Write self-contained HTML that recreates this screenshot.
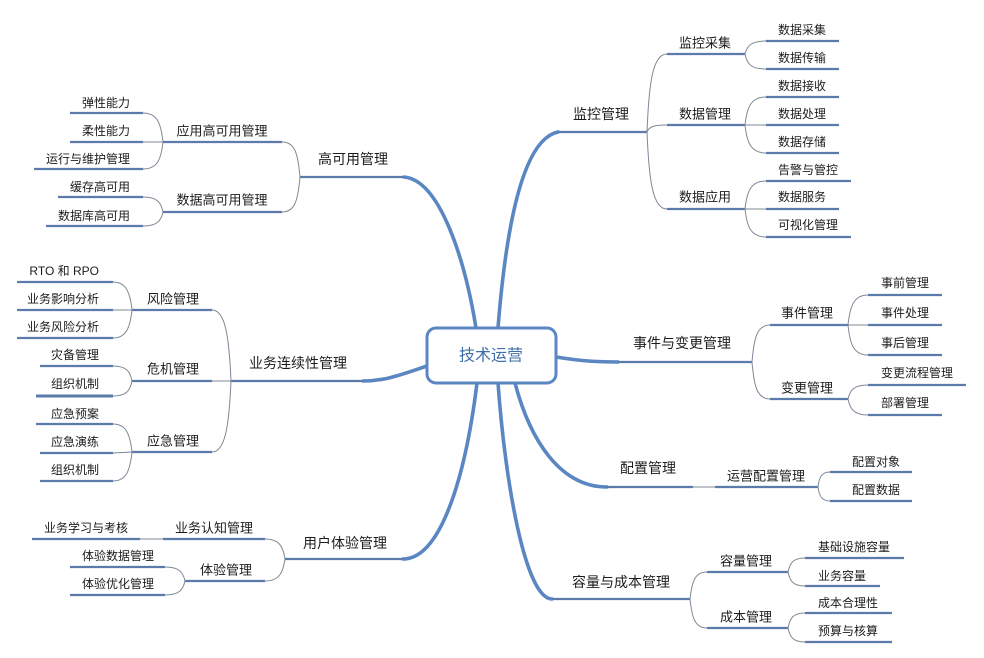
<!DOCTYPE html>
<html><head><meta charset="utf-8">
<style>
html,body{margin:0;padding:0;background:#fff;}
svg{display:block;}
text{font-family:"Liberation Sans","Noto Sans CJK SC",sans-serif;fill:#1c1c1c;dominant-baseline:central;}
.m{font-size:14px;text-anchor:middle;}
.s{font-size:13px;text-anchor:middle;}
.le{font-size:12px;text-anchor:end;}
.ls{font-size:12px;text-anchor:start;}
.u{stroke:#5b7bab;stroke-width:2.2;fill:none;}
.b{stroke:#7f8896;stroke-width:1;fill:none;}
.mc{stroke:#5a86c2;stroke-width:3.6;fill:none;stroke-linecap:round;}
</style></head>
<body>
<svg width="984" height="658" viewBox="0 0 984 658" xmlns="http://www.w3.org/2000/svg">
<!-- main curves -->
<path class="mc" d="M404,177 C440,180 465,260 476,328"/>
<path class="mc" d="M498,328 C505,240 520,140 558,132"/>
<path class="mc" d="M427,366 C400,375 385,381 363,381"/>
<path class="mc" d="M556,357 C575,360 590,362 618,362"/>
<path class="mc" d="M515,383 C530,440 560,487 607,487"/>
<path class="mc" d="M498,383 C505,480 525,599 552,599"/>
<path class="mc" d="M477,383 C465,480 440,559 403,559"/>

<!-- central box -->
<rect x="427" y="328" width="129" height="55" rx="9" ry="9" fill="#fff" stroke="#5a86c2" stroke-width="3"/>
<text x="491" y="356" style="font-size:16px;text-anchor:middle;fill:#3f6fa8;">技术运营</text>

<!-- main underlines -->
<line class="u" x1="300" y1="177" x2="404" y2="177"/>
<line class="u" x1="558" y1="132" x2="647" y2="132"/>
<line class="u" x1="231" y1="381" x2="363" y2="381"/>
<line class="u" x1="618" y1="362" x2="752" y2="362"/>
<line class="u" x1="605" y1="487" x2="693" y2="487"/>
<line class="u" x1="552" y1="599" x2="690" y2="599"/>
<line class="u" x1="285" y1="559" x2="403" y2="559"/>

<text class="m" x="353" y="159">高可用管理</text>
<text class="m" x="601" y="114">监控管理</text>
<text class="m" x="298" y="363">业务连续性管理</text>
<text class="m" x="682" y="343">事件与变更管理</text>
<text class="m" x="648" y="468">配置管理</text>
<text class="m" x="621" y="582">容量与成本管理</text>
<text class="m" x="345" y="543">用户体验管理</text>

<!-- level 2 underlines -->
<line class="u" x1="163" y1="142" x2="282" y2="142"/>
<line class="u" x1="163" y1="212" x2="282" y2="212"/>
<line class="u" x1="132" y1="310" x2="212" y2="310"/>
<line class="u" x1="132" y1="381" x2="212" y2="381"/>
<line class="u" x1="132" y1="452" x2="212" y2="452"/>
<line class="u" x1="163" y1="539" x2="265" y2="539"/>
<line class="u" x1="185" y1="581" x2="265" y2="581"/>
<line class="u" x1="667" y1="54" x2="745" y2="54"/>
<line class="u" x1="667" y1="125" x2="745" y2="125"/>
<line class="u" x1="667" y1="209" x2="745" y2="209"/>
<line class="u" x1="770" y1="325" x2="848" y2="325"/>
<line class="u" x1="770" y1="399" x2="848" y2="399"/>
<line class="u" x1="715" y1="487" x2="818" y2="487"/>
<line class="u" x1="707" y1="572" x2="788" y2="572"/>
<line class="u" x1="707" y1="628" x2="788" y2="628"/>

<text class="s" x="222" y="131">应用高可用管理</text>
<text class="s" x="222" y="200">数据高可用管理</text>
<text class="s" x="173" y="299">风险管理</text>
<text class="s" x="173" y="369">危机管理</text>
<text class="s" x="173" y="441">应急管理</text>
<text class="s" x="214" y="528">业务认知管理</text>
<text class="s" x="226" y="570">体验管理</text>
<text class="s" x="705" y="43">监控采集</text>
<text class="s" x="705" y="114">数据管理</text>
<text class="s" x="705" y="197">数据应用</text>
<text class="s" x="807" y="313">事件管理</text>
<text class="s" x="807" y="388">变更管理</text>
<text class="s" x="766" y="476">运营配置管理</text>
<text class="s" x="746" y="561">容量管理</text>
<text class="s" x="746" y="617">成本管理</text>

<!-- leaf underlines -->
<line class="u" x1="70" y1="113" x2="143" y2="113"/>
<line class="u" x1="70" y1="142" x2="143" y2="142"/>
<line class="u" x1="34" y1="169" x2="143" y2="169"/>
<line class="u" x1="58" y1="197" x2="143" y2="197"/>
<line class="u" x1="46" y1="226" x2="143" y2="226"/>
<line class="u" x1="17" y1="282" x2="113" y2="282"/>
<line class="u" x1="17" y1="310" x2="113" y2="310"/>
<line class="u" x1="17" y1="338" x2="113" y2="338"/>
<line class="u" x1="40" y1="366" x2="113" y2="366"/>
<line class="u" x1="36" y1="396" x2="113" y2="396" style="stroke-width:3"/>
<line class="u" x1="36" y1="424" x2="113" y2="424"/>
<line class="u" x1="40" y1="453" x2="113" y2="453"/>
<line class="u" x1="40" y1="481" x2="113" y2="481"/>
<line class="u" x1="32" y1="539" x2="140" y2="539"/>
<line class="u" x1="70" y1="567" x2="165" y2="567"/>
<line class="u" x1="70" y1="595" x2="165" y2="595"/>

<line class="u" x1="766" y1="41" x2="839" y2="41"/>
<line class="u" x1="766" y1="69" x2="839" y2="69"/>
<line class="u" x1="766" y1="97" x2="839" y2="97"/>
<line class="u" x1="766" y1="125" x2="839" y2="125"/>
<line class="u" x1="766" y1="153" x2="839" y2="153"/>
<line class="u" x1="766" y1="181" x2="851" y2="181"/>
<line class="u" x1="766" y1="209" x2="839" y2="209"/>
<line class="u" x1="766" y1="237" x2="851" y2="237"/>
<line class="u" x1="868" y1="295" x2="942" y2="295"/>
<line class="u" x1="868" y1="325" x2="942" y2="325"/>
<line class="u" x1="868" y1="355" x2="942" y2="355"/>
<line class="u" x1="868" y1="385" x2="966" y2="385"/>
<line class="u" x1="868" y1="415" x2="942" y2="415"/>
<line class="u" x1="830" y1="472" x2="912" y2="472"/>
<line class="u" x1="830" y1="501" x2="912" y2="501"/>
<line class="u" x1="805" y1="558" x2="904" y2="558"/>
<line class="u" x1="805" y1="586" x2="880" y2="586"/>
<line class="u" x1="805" y1="613" x2="892" y2="613"/>
<line class="u" x1="805" y1="642" x2="892" y2="642"/>

<text class="le" x="130" y="103">弹性能力</text>
<text class="le" x="130" y="131">柔性能力</text>
<text class="le" x="130" y="159">运行与维护管理</text>
<text class="le" x="130" y="187">缓存高可用</text>
<text class="le" x="130" y="216">数据库高可用</text>
<text class="le" x="99" y="271">RTO 和 RPO</text>
<text class="le" x="99" y="299">业务影响分析</text>
<text class="le" x="99" y="327">业务风险分析</text>
<text class="le" x="99" y="355">灾备管理</text>
<text class="le" x="99" y="384">组织机制</text>
<text class="le" x="99" y="414">应急预案</text>
<text class="le" x="99" y="442">应急演练</text>
<text class="le" x="99" y="470">组织机制</text>
<text class="le" x="128" y="528">业务学习与考核</text>
<text class="le" x="154" y="556">体验数据管理</text>
<text class="le" x="154" y="584">体验优化管理</text>

<text class="ls" x="778" y="30">数据采集</text>
<text class="ls" x="778" y="58">数据传输</text>
<text class="ls" x="778" y="86">数据接收</text>
<text class="ls" x="778" y="114">数据处理</text>
<text class="ls" x="778" y="142">数据存储</text>
<text class="ls" x="778" y="170">告警与管控</text>
<text class="ls" x="778" y="197">数据服务</text>
<text class="ls" x="778" y="225">可视化管理</text>
<text class="ls" x="881" y="283">事前管理</text>
<text class="ls" x="881" y="313">事件处理</text>
<text class="ls" x="881" y="343">事后管理</text>
<text class="ls" x="881" y="373">变更流程管理</text>
<text class="ls" x="881" y="403">部署管理</text>
<text class="ls" x="852" y="462">配置对象</text>
<text class="ls" x="852" y="490">配置数据</text>
<text class="ls" x="818" y="547">基础设施容量</text>
<text class="ls" x="818" y="576">业务容量</text>
<text class="ls" x="818" y="603">成本合理性</text>
<text class="ls" x="818" y="631">预算与核算</text>

<!-- brackets -->
<path class="b" d="M300,177 C298,154 295,142 282,142"/>
<path class="b" d="M300,177 C298,200 295,212 282,212"/>
<path class="b" d="M163,142 C161,123 157,113 143,113"/>
<path class="b" d="M163,142 L143,142"/>
<path class="b" d="M163,142 C161,160 157,169 143,169"/>
<path class="b" d="M163,212 C161,202 157,197 143,197"/>
<path class="b" d="M163,212 C161,221 157,226 143,226"/>
<path class="b" d="M231,381 C229,335 225,310 212,310"/>
<path class="b" d="M231,381 L212,381"/>
<path class="b" d="M231,381 C229,427 225,452 212,452"/>
<path class="b" d="M132,310 C130,292 126,282 113,282"/>
<path class="b" d="M132,310 L113,310"/>
<path class="b" d="M132,310 C130,328 126,338 113,338"/>
<path class="b" d="M132,381 C130,371 126,366 113,366"/>
<path class="b" d="M132,381 C130,391 126,396 113,396"/>
<path class="b" d="M132,452 C130,434 126,424 113,424"/>
<path class="b" d="M132,452 L113,453"/>
<path class="b" d="M132,452 C130,471 126,481 113,481"/>
<path class="b" d="M285,559 C283,546 279,539 265,539"/>
<path class="b" d="M285,559 C283,573 279,581 265,581"/>
<path class="b" d="M140,539 L163,539"/>
<path class="b" d="M185,581 C183,572 179,567 165,567"/>
<path class="b" d="M185,581 C183,590 179,595 165,595"/>

<path class="b" d="M647,132 C649,81 653,54 667,54"/>
<path class="b" d="M647,132 C649,127 653,125 667,125"/>
<path class="b" d="M647,132 C649,182 653,209 667,209"/>
<path class="b" d="M745,54 C747,46 751,41 766,41"/>
<path class="b" d="M745,54 C747,64 751,69 766,69"/>
<path class="b" d="M745,125 C747,107 751,97 766,97"/>
<path class="b" d="M745,125 L766,125"/>
<path class="b" d="M745,125 C747,143 751,153 766,153"/>
<path class="b" d="M745,209 C747,191 751,181 766,181"/>
<path class="b" d="M745,209 L766,209"/>
<path class="b" d="M745,209 C747,227 751,237 766,237"/>
<path class="b" d="M752,362 C754,338 757,325 770,325"/>
<path class="b" d="M752,362 C754,386 757,399 770,399"/>
<path class="b" d="M848,325 C850,306 854,295 868,295"/>
<path class="b" d="M848,325 L868,325"/>
<path class="b" d="M848,325 C850,345 854,355 868,355"/>
<path class="b" d="M848,399 C850,390 854,385 868,385"/>
<path class="b" d="M848,399 C850,409 854,415 868,415"/>
<path class="b" d="M693,487 L715,487"/>
<path class="b" d="M818,487 C819,477 822,472 830,472"/>
<path class="b" d="M818,487 C819,496 822,501 830,501"/>
<path class="b" d="M690,599 C692,581 695,572 707,572"/>
<path class="b" d="M690,599 C692,618 695,628 707,628"/>
<path class="b" d="M788,572 C790,563 793,558 805,558"/>
<path class="b" d="M788,572 C790,581 793,586 805,586"/>
<path class="b" d="M788,628 C790,618 793,613 805,613"/>
<path class="b" d="M788,628 C790,637 793,642 805,642"/>
</svg>
</body></html>
